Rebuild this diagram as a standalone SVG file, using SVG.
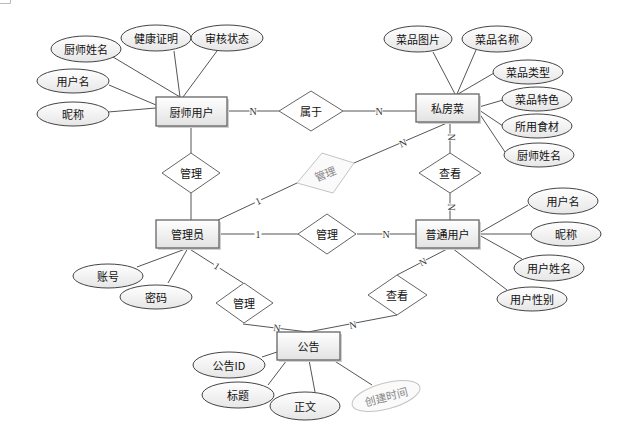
<svg xmlns="http://www.w3.org/2000/svg" width="625" height="432" viewBox="0 0 625 432">
<defs>
<linearGradient id="gr" x1="0" y1="0" x2="0" y2="1"><stop offset="0" stop-color="#ffffff"/><stop offset="1" stop-color="#e2e2e2"/></linearGradient>
<linearGradient id="ge" x1="0" y1="0" x2="0" y2="1"><stop offset="0" stop-color="#ffffff"/><stop offset="1" stop-color="#e6e6e6"/></linearGradient>
</defs>
<style>
text{font-family:"Noto Sans CJK SC","Liberation Sans",sans-serif;font-size:11px;font-weight:normal;fill:#111;text-anchor:middle;dominant-baseline:central}
.ent rect.b{fill:url(#gr);stroke:#666;stroke-width:1.3}
.ent rect.s{fill:#d0d0d0}
.att ellipse{fill:url(#ge);stroke:#444;stroke-width:1}
.rel polygon{fill:#fff;stroke:#666;stroke-width:1}
.faint polygon,.faint ellipse{fill:#fafafa;stroke:#c4c4c4}
.faint text{fill:#888}
.con line{stroke:#555;stroke-width:1}
.lbl rect{fill:#fff}
.lbl text{font-family:"Liberation Serif",serif;font-size:10px;fill:#333}
</style>
<g id="corner" stroke="#bbb" stroke-width="1"><line x1="0" y1="3.5" x2="10.5" y2="3.5"/><line x1="10.5" y1="0" x2="10.5" y2="3.5"/></g>
<g id="connectors" class="con">
<line x1="227" y1="111" x2="279" y2="111"/>
<line x1="343" y1="111" x2="416" y2="111"/>
<line x1="191" y1="126" x2="191" y2="153"/>
<line x1="191" y1="193" x2="191" y2="220"/>
<line x1="450" y1="122" x2="450" y2="153"/>
<line x1="450" y1="193" x2="450" y2="220"/>
<line x1="219" y1="234" x2="298" y2="234"/>
<line x1="357" y1="234" x2="416" y2="234"/>
<line x1="218" y1="220" x2="297" y2="183"/>
<line x1="354" y1="163" x2="447" y2="123"/>
<line x1="188" y1="248" x2="243" y2="283"/>
<line x1="243" y1="324" x2="308" y2="332"/>
<line x1="397" y1="275" x2="449" y2="248"/>
<line x1="397" y1="315" x2="308" y2="332"/>
<line x1="113" y1="57" x2="180" y2="97"/>
<line x1="174" y1="51" x2="180" y2="97"/>
<line x1="217" y1="51" x2="183" y2="97"/>
<line x1="109" y1="85" x2="156" y2="105"/>
<line x1="108" y1="112" x2="156" y2="108"/>
<line x1="433" y1="52" x2="455" y2="94"/>
<line x1="476" y1="50" x2="457" y2="94"/>
<line x1="494" y1="73" x2="458" y2="94"/>
<line x1="503" y1="100" x2="479" y2="107"/>
<line x1="503" y1="126" x2="479" y2="110"/>
<line x1="505" y1="152" x2="479" y2="113"/>
<line x1="528" y1="205" x2="479" y2="233"/>
<line x1="531" y1="234" x2="479" y2="234"/>
<line x1="522" y1="259" x2="479" y2="235"/>
<line x1="507" y1="290" x2="452" y2="248"/>
<line x1="137" y1="267" x2="188" y2="248"/>
<line x1="168" y1="283" x2="188" y2="248"/>
<line x1="262" y1="357" x2="277" y2="352"/>
<line x1="268" y1="385" x2="287" y2="360"/>
<line x1="315" y1="392" x2="309" y2="360"/>
<line x1="372" y1="385" x2="333" y2="360"/>
</g>
<g id="labels" class="lbl">
<g transform="translate(253,111)"><rect x="-3.5" y="-4.5" width="7" height="9"/><text>N</text></g>
<g transform="translate(379,111)"><rect x="-3.5" y="-4.5" width="7" height="9"/><text>N</text></g>
<g transform="translate(451,137) rotate(90)"><rect x="-3.5" y="-4.5" width="7" height="9"/><text>N</text></g>
<g transform="translate(451,207) rotate(90)"><rect x="-3.5" y="-4.5" width="7" height="9"/><text>N</text></g>
<g transform="translate(258,234)"><rect x="-3.5" y="-4.5" width="7" height="9"/><text>1</text></g>
<g transform="translate(386,234)"><rect x="-3.5" y="-4.5" width="7" height="9"/><text>N</text></g>
<g transform="translate(258,201) rotate(-25)"><rect x="-3.5" y="-4.5" width="7" height="9"/><text>1</text></g>
<g transform="translate(403,143) rotate(-23)"><rect x="-3.5" y="-4.5" width="7" height="9"/><text>N</text></g>
<g transform="translate(217,266) rotate(32)"><rect x="-3.5" y="-4.5" width="7" height="9"/><text>1</text></g>
<g transform="translate(277,328) rotate(7)"><rect x="-3.5" y="-4.5" width="7" height="9"/><text>N</text></g>
<g transform="translate(423,262) rotate(-27)"><rect x="-3.5" y="-4.5" width="7" height="9"/><text>N</text></g>
<g transform="translate(353,325) rotate(-11)"><rect x="-3.5" y="-4.5" width="7" height="9"/><text>N</text></g>
</g>
<g id="e-chef" class="ent"><rect class="s" x="158" y="99" width="71" height="29"/><rect class="b" x="156" y="97" width="71" height="29"/><text x="191.5" y="111.5">厨师用户</text></g>
<g id="e-dish" class="ent"><rect class="s" x="418" y="96" width="63" height="28"/><rect class="b" x="416" y="94" width="63" height="28"/><text x="447.5" y="108">私房菜</text></g>
<g id="e-admin" class="ent"><rect class="s" x="158" y="222" width="63" height="28"/><rect class="b" x="156" y="220" width="63" height="28"/><text x="187.5" y="234">管理员</text></g>
<g id="e-user" class="ent"><rect class="s" x="418" y="222" width="63" height="28"/><rect class="b" x="416" y="220" width="63" height="28"/><text x="447.5" y="234">普通用户</text></g>
<g id="e-notice" class="ent"><rect class="s" x="279" y="334" width="63" height="28"/><rect class="b" x="277" y="332" width="63" height="28"/><text x="308.5" y="346">公告</text></g>
<g id="r-belong" class="rel"><polygon points="279,111 311,91 343,111 311,131"/><text x="311" y="111">属于</text></g>
<g id="r-manage1" class="rel"><polygon points="162,173 191,153 220,173 191,193"/><text x="191" y="173">管理</text></g>
<g id="r-manage2" class="rel faint"><polygon points="297,183 322,153 354,163 333,193"/><text x="325" y="173" transform="rotate(-22 325 173)">管理</text></g>
<g id="r-view1" class="rel"><polygon points="419,173 450,153 481,173 450,193"/><text x="450" y="173">查看</text></g>
<g id="r-manage3" class="rel"><polygon points="298,234 327,214 356,234 327,254"/><text x="327" y="234">管理</text></g>
<g id="r-manage4" class="rel"><polygon points="216,303 244,283 273,303 244,323"/><text x="244" y="303">管理</text></g>
<g id="r-view2" class="rel"><polygon points="368,295 397,275 427,295 397,315"/><text x="397" y="295">查看</text></g>
<g id="a-chefname" class="att"><ellipse cx="86" cy="49" rx="35" ry="13"/><text x="86" y="49">厨师姓名</text></g>
<g id="a-health" class="att"><ellipse cx="156" cy="38" rx="35" ry="13"/><text x="156" y="38">健康证明</text></g>
<g id="a-audit" class="att"><ellipse cx="227" cy="38" rx="36" ry="13"/><text x="227" y="38">审核状态</text></g>
<g id="a-uname1" class="att"><ellipse cx="73" cy="81" rx="36" ry="12"/><text x="73" y="81">用户名</text></g>
<g id="a-nick1" class="att"><ellipse cx="73" cy="114" rx="36" ry="12"/><text x="73" y="114">昵称</text></g>
<g id="a-pic" class="att"><ellipse cx="418" cy="39" rx="34" ry="13"/><text x="418" y="39">菜品图片</text></g>
<g id="a-dname" class="att"><ellipse cx="497" cy="39" rx="35" ry="13"/><text x="497" y="39">菜品名称</text></g>
<g id="a-dtype" class="att"><ellipse cx="528" cy="72" rx="35" ry="12"/><text x="528" y="72">菜品类型</text></g>
<g id="a-dfeat" class="att"><ellipse cx="537" cy="99" rx="35" ry="12"/><text x="537" y="99">菜品特色</text></g>
<g id="a-ingr" class="att"><ellipse cx="537" cy="126" rx="35" ry="12"/><text x="537" y="126">所用食材</text></g>
<g id="a-chefname2" class="att"><ellipse cx="539" cy="155" rx="35" ry="12"/><text x="539" y="155">厨师姓名</text></g>
<g id="a-uname2" class="att"><ellipse cx="563" cy="201" rx="35" ry="13"/><text x="563" y="201">用户名</text></g>
<g id="a-nick2" class="att"><ellipse cx="566" cy="234" rx="35" ry="12"/><text x="566" y="234">昵称</text></g>
<g id="a-realname" class="att"><ellipse cx="549" cy="268" rx="35" ry="13"/><text x="549" y="268">用户姓名</text></g>
<g id="a-gender" class="att"><ellipse cx="532" cy="299" rx="35" ry="12"/><text x="532" y="299">用户性别</text></g>
<g id="a-account" class="att"><ellipse cx="108" cy="276" rx="35" ry="12"/><text x="108" y="276">账号</text></g>
<g id="a-pwd" class="att"><ellipse cx="156" cy="297" rx="36" ry="12"/><text x="156" y="297">密码</text></g>
<g id="a-nid" class="att"><ellipse cx="229" cy="365" rx="36" ry="13"/><text x="229" y="365">公告ID</text></g>
<g id="a-title" class="att"><ellipse cx="238" cy="395" rx="36" ry="13"/><text x="238" y="395">标题</text></g>
<g id="a-body" class="att"><ellipse cx="305" cy="406" rx="35" ry="14"/><text x="305" y="406">正文</text></g>
<g id="a-ctime" class="att faint"><ellipse cx="386" cy="396" rx="35" ry="13" transform="rotate(-15 386 396)"/><text x="386" y="396" transform="rotate(-15 386 396)">创建时间</text></g>
</svg>
